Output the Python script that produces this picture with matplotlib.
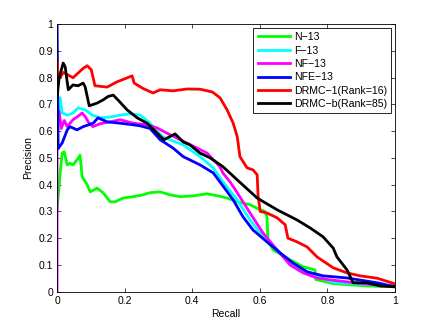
import matplotlib.pyplot as plt
from matplotlib.ticker import FormatStrFormatter

plt.rcParams['font.family'] = ['Liberation Sans', 'DejaVu Sans']

# precision-recall curves
n13_x = [0.0, 0.009, 0.015, 0.021, 0.030, 0.038, 0.047, 0.059, 0.068, 0.071, 0.074, 0.089,
         0.098, 0.118, 0.136, 0.157, 0.172, 0.195, 0.225, 0.254, 0.275, 0.305, 0.334, 0.364,
         0.402, 0.444, 0.476, 0.503, 0.533, 0.571, 0.601, 0.615, 0.621, 0.624, 0.639, 0.689,
         0.728, 0.763, 0.766, 0.817, 0.917, 1.0]
n13_y = [0.306, 0.443, 0.518, 0.523, 0.474, 0.48, 0.474, 0.493, 0.51, 0.47, 0.43, 0.40,
         0.373, 0.387, 0.37, 0.336, 0.336, 0.35, 0.355, 0.362, 0.37, 0.373, 0.362, 0.355,
         0.358, 0.366, 0.358, 0.35, 0.336, 0.325, 0.306, 0.30, 0.28, 0.193, 0.156, 0.119,
         0.093, 0.081, 0.045, 0.03, 0.021, 0.018]

f13_x = [0.0, 0.009, 0.015, 0.030, 0.047, 0.062, 0.083, 0.104, 0.127, 0.157, 0.186, 0.216,
         0.246, 0.275, 0.296, 0.314, 0.373, 0.423, 0.462, 0.491, 0.533, 0.571, 0.609, 0.651,
         0.689, 0.728, 0.769, 0.817, 0.896, 1.0]
f13_y = [0.63, 0.725, 0.668, 0.66, 0.668, 0.687, 0.68, 0.66, 0.65, 0.653, 0.66, 0.665,
         0.66, 0.63, 0.60, 0.578, 0.549, 0.505, 0.463, 0.41, 0.343, 0.268, 0.205, 0.156,
         0.107, 0.074, 0.055, 0.035, 0.028, 0.02]

nf13_x = [0.0, 0.0, 0.006, 0.012, 0.021, 0.030, 0.047, 0.059, 0.074, 0.083, 0.092, 0.106,
          0.127, 0.157, 0.186, 0.225, 0.266, 0.296, 0.334, 0.393, 0.444, 0.482, 0.491, 0.512,
          0.533, 0.571, 0.609, 0.651, 0.689, 0.728, 0.769, 0.808, 0.9, 1.0]
nf13_y = [0.0, 0.64, 0.675, 0.61, 0.64, 0.617, 0.643, 0.653, 0.668, 0.655, 0.635, 0.617,
          0.628, 0.635, 0.643, 0.63, 0.624, 0.612, 0.587, 0.55, 0.518, 0.467, 0.443, 0.41,
          0.37, 0.294, 0.22, 0.156, 0.10, 0.07, 0.051, 0.044, 0.03, 0.02]

nfe13_x = [0.0, 0.003, 0.015, 0.030, 0.038, 0.059, 0.077, 0.107, 0.121, 0.148, 0.186, 0.225,
           0.246, 0.275, 0.305, 0.343, 0.373, 0.423, 0.462, 0.488, 0.521, 0.550, 0.580, 0.621,
           0.660, 0.698, 0.740, 0.787, 0.858, 0.947, 1.0]
nfe13_y = [1.0, 0.535, 0.556, 0.605, 0.617, 0.605, 0.617, 0.63, 0.65, 0.635, 0.63, 0.624,
           0.62, 0.61, 0.568, 0.537, 0.505, 0.474, 0.444, 0.40, 0.343, 0.28, 0.23, 0.186,
           0.145, 0.107, 0.074, 0.059, 0.051, 0.033, 0.018]

drmc1_x = [0.0, 0.003, 0.009, 0.018, 0.033, 0.047, 0.077, 0.089, 0.101, 0.112, 0.148, 0.178,
           0.222, 0.228, 0.254, 0.284, 0.305, 0.343, 0.385, 0.423, 0.459, 0.482, 0.503, 0.521,
           0.533, 0.541, 0.562, 0.580, 0.592, 0.595, 0.601, 0.621, 0.651, 0.675, 0.683, 0.710,
           0.740, 0.769, 0.817, 0.858, 0.896, 0.947, 1.0]
drmc1_y = [0.867, 0.80, 0.80, 0.82, 0.81, 0.80, 0.835, 0.845, 0.83, 0.77, 0.765, 0.785,
           0.807, 0.78, 0.76, 0.743, 0.755, 0.751, 0.758, 0.757, 0.747, 0.725, 0.68, 0.63,
           0.58, 0.505, 0.463, 0.455, 0.437, 0.355, 0.30, 0.294, 0.276, 0.25, 0.20, 0.186,
           0.167, 0.13, 0.089, 0.07, 0.059, 0.05, 0.029]

drmcb_x = [0.0, 0.006, 0.018, 0.024, 0.033, 0.047, 0.062, 0.077, 0.083, 0.095, 0.118, 0.136,
           0.151, 0.166, 0.180, 0.207, 0.237, 0.266, 0.296, 0.316, 0.349, 0.373, 0.393, 0.423,
           0.453, 0.491, 0.533, 0.592, 0.651, 0.710, 0.749, 0.787, 0.817, 0.828, 0.858, 0.876,
           0.917, 0.956, 1.0]
drmcb_y = [0.73, 0.80, 0.855, 0.84, 0.755, 0.773, 0.77, 0.78, 0.766, 0.695, 0.705, 0.717,
           0.73, 0.735, 0.717, 0.68, 0.65, 0.63, 0.593, 0.568, 0.59, 0.56, 0.549, 0.518,
           0.50, 0.467, 0.418, 0.35, 0.306, 0.268, 0.238, 0.205, 0.163, 0.13, 0.081, 0.033,
           0.033, 0.021, 0.018]

labels = ['N\u221213', 'F\u221213', 'NF\u221213', 'NFE\u221213',
          'DRMC\u22121(Rank=16)', 'DRMC\u2212b(Rank=85)']

fig = plt.figure(figsize=(4.36, 3.28), dpi=100)
ax = fig.add_axes([0.131, 0.111, 0.775, 0.815])

ax.plot(n13_x, n13_y, color=(0, 1, 0), lw=2, label=labels[0])
ax.plot(f13_x, f13_y, color=(0, 1, 1), lw=2, label=labels[1])
ax.plot(nf13_x, nf13_y, color=(1, 0, 1), lw=2, label=labels[2])
ax.plot(nfe13_x, nfe13_y, color=(0, 0, 1), lw=2, label=labels[3])
ax.plot(drmc1_x, drmc1_y, color=(1, 0, 0), lw=2, label=labels[4])
ax.plot(drmcb_x, drmcb_y, color='k', lw=2, label=labels[5])

ax.set_xlim(0, 1)
ax.set_ylim(0, 1)
ax.set_xticks([0, 0.2, 0.4, 0.6, 0.8, 1])
ax.set_yticks([i / 10 for i in range(11)])
ax.xaxis.set_major_formatter(FormatStrFormatter('%g'))
ax.yaxis.set_major_formatter(FormatStrFormatter('%g'))
ax.tick_params(direction='in', top=True, right=True, length=3, width=0.5,
               labelsize=7.5, pad=3)
for s in ax.spines.values():
    s.set_linewidth(0.6)

ax.set_xlabel('Recall', fontsize=7.5, labelpad=2)
ax.set_ylabel('Precision', fontsize=7.5, labelpad=4)

leg = ax.legend(loc='upper right', fontsize=7.6, handlelength=3.1, handletextpad=0.35,
                labelspacing=0.32, borderpad=0.4, borderaxespad=0.35,
                fancybox=False, framealpha=1, edgecolor='k')
leg.get_frame().set_linewidth(0.6)

fig.savefig('out.png', dpi=100)
